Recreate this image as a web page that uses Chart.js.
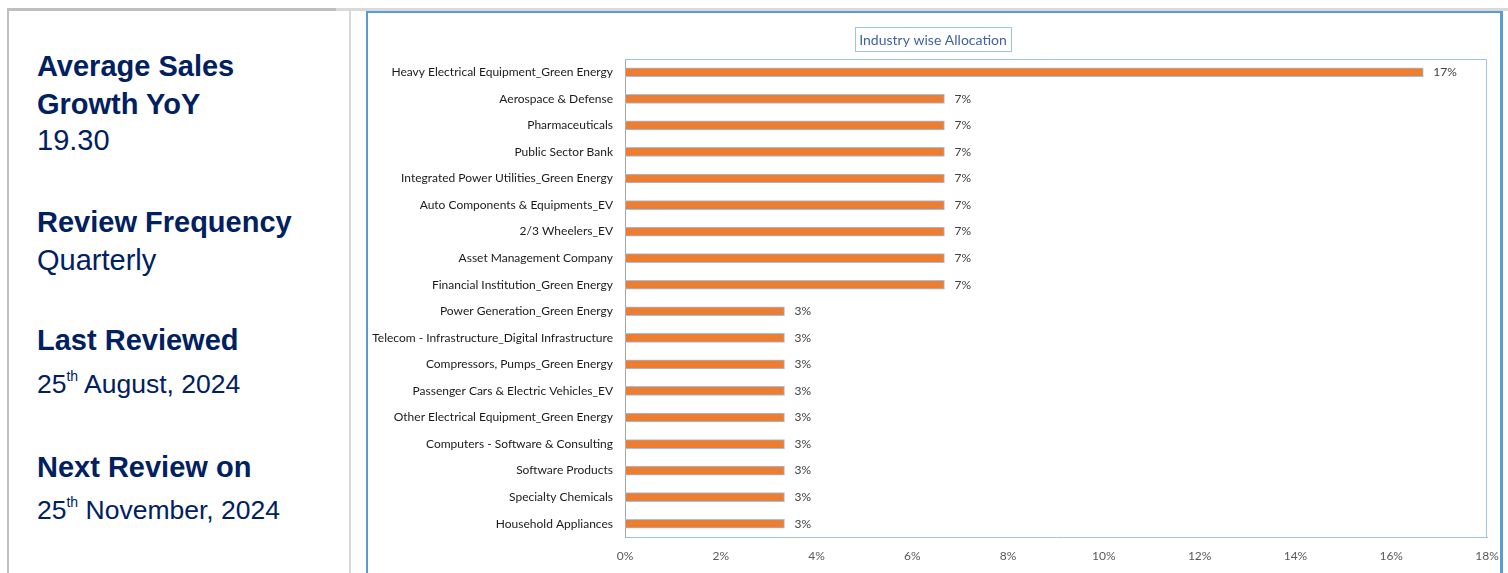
<!DOCTYPE html>
<html>
<head>
<meta charset="utf-8">
<script src="https://cdn.jsdelivr.net/npm/chart.js@4.4.1/dist/chart.umd.min.js"></script>
<style>
  html, body { margin: 0; padding: 0; background: #fff; }
  body { width: 1508px; height: 573px; position: relative; overflow: hidden; font-family: "Liberation Sans", Arial, sans-serif; }
  .line { position: absolute; }
  .txt { position: absolute; left: 37px; color: #002060; line-height: 38px; white-space: nowrap; }
  .head { font-weight: bold; font-size: 29px; }
  .val { font-size: 29px; }
  .date { font-size: 26.5px; }
  .date sup { font-size: 14px; vertical-align: 12px; line-height: 0; }
  #chartBox { position: absolute; left: 366px; top: 11px; width: 1132px; height: 580px; border: 2px solid #5b9bd5; border-right-width: 3px; }
  #chartWrap { position: absolute; left: 368px; top: 13px; width: 1132px; height: 560px; }
</style>
</head>
<body>
<div class="line" style="left:7px; top:8px; width:329px; height:3px; background:#bfbfbf;"></div>
<div class="line" style="left:336px; top:8px; width:1172px; height:3px; background:#d9d9d9;"></div>
<div class="line" style="left:7px; top:8px; width:2px; height:565px; background:#bfbfbf;"></div>
<div class="line" style="left:349px; top:10px; width:2px; height:563px; background:#d9d9d9;"></div>

<div class="txt head" style="top:47px;">Average Sales</div>
<div class="txt head" style="top:85px;">Growth YoY</div>
<div class="txt val" style="top:121px;">19.30</div>
<div class="txt head" style="top:203px;">Review Frequency</div>
<div class="txt val" style="top:241px;">Quarterly</div>
<div class="txt head" style="top:321px;">Last Reviewed</div>
<div class="txt date" style="top:365px;">25<sup>th</sup> August, 2024</div>
<div class="txt head" style="top:448px;">Next Review on</div>
<div class="txt date" style="top:491px;">25<sup>th</sup> November, 2024</div>

<div id="chartBox"></div>
<div id="chartWrap"><canvas id="barChart"></canvas></div>

<script>
const industries = [
    'Heavy Electrical Equipment_Green Energy',
    'Aerospace & Defense',
    'Pharmaceuticals',
    'Public Sector Bank',
    'Integrated Power Utilities_Green Energy',
    'Auto Components & Equipments_EV',
    '2/3 Wheelers_EV',
    'Asset Management Company',
    'Financial Institution_Green Energy',
    'Power Generation_Green Energy',
    'Telecom - Infrastructure_Digital Infrastructure',
    'Compressors, Pumps_Green Energy',
    'Passenger Cars & Electric Vehicles_EV',
    'Other Electrical Equipment_Green Energy',
    'Computers - Software & Consulting',
    'Software Products',
    'Specialty Chemicals',
    'Household Appliances'
];
const allocation = [16.67, 6.67, 6.67, 6.67, 6.67, 6.67, 6.67, 6.67, 6.67,
                    3.33, 3.33, 3.33, 3.33, 3.33, 3.33, 3.33, 3.33, 3.33];
const xTicks = [0, 2, 4, 6, 8, 10, 12, 14, 16, 18];
const chartTitle = 'Industry wise Allocation';

const labelFont = 'Lato, "DejaVu Sans Condensed", sans-serif';

// plot area border (top & right), the axes draw the rest
const plotFrame = {
    id: 'plotFrame',
    beforeDatasetsDraw(chart) {
        const { ctx, chartArea: a } = chart;
        ctx.save();
        ctx.strokeStyle = '#9dc3e6';
        ctx.lineWidth = 1;
        ctx.beginPath();
        ctx.moveTo(a.left, a.top + 0.5);
        ctx.lineTo(a.right - 0.5, a.top + 0.5);
        ctx.lineTo(a.right - 0.5, a.bottom);
        ctx.stroke();
        ctx.restore();
    }
};

const boxTitle = {
    id: 'boxTitle',
    afterDraw(chart) {
        const ctx = chart.ctx;
        ctx.save();
        ctx.font = `14px ${labelFont}`;
        const w = ctx.measureText(chartTitle).width;
        const cx = 933 - 368, cy = 40 - 13;
        ctx.strokeStyle = '#9dc3e6';
        ctx.lineWidth = 1;
        ctx.strokeRect(Math.round(cx - w / 2 - 4) + 0.5, cy - 12.5, Math.round(w + 8), 24);
        ctx.fillStyle = '#3f62a0';
        ctx.textAlign = 'center';
        ctx.textBaseline = 'middle';
        ctx.fillText(chartTitle, cx, cy);
        ctx.restore();
    }
};

const valueLabels = {
    id: 'valueLabels',
    afterDatasetsDraw(chart) {
        const ctx = chart.ctx;
        const meta = chart.getDatasetMeta(0);
        ctx.save();
        ctx.font = `12px ${labelFont}`;
        ctx.fillStyle = '#404040';
        ctx.textAlign = 'left';
        ctx.textBaseline = 'middle';
        meta.data.forEach((bar, i) => {
            ctx.fillText(Math.round(allocation[i]) + '%', bar.x + 10, bar.y);
        });
        ctx.restore();
    }
};

new Chart(document.getElementById('barChart'), {
    type: 'bar',
    data: {
        labels: industries,
        datasets: [{
            data: allocation,
            backgroundColor: '#ed7d31',
            borderColor: '#9dc3e6',
            borderWidth: 1,
            borderSkipped: false,
            barThickness: 9
        }]
    },
    options: {
        indexAxis: 'y',
        responsive: true,
        maintainAspectRatio: false,
        animation: false,
        layout: { padding: { top: 46, right: 13, left: 0, bottom: 0 } },
        plugins: {
            legend: { display: false },
            tooltip: { enabled: false },
            title: { display: false }
        },
        scales: {
            x: {
                min: 0,
                max: 18,
                afterBuildTicks: (scale) => { scale.ticks = xTicks.map(v => ({ value: v })); },
                afterFit: (scale) => {
                    scale.height = 36;
                    scale.paddingRight = 0;
                    scale.paddingLeft = 0;
                },
                grid: { display: false, drawTicks: false },
                border: { display: true, color: '#9dc3e6', width: 1 },
                ticks: {
                    padding: 12,
                    color: '#595959',
                    font: { family: labelFont, size: 12 },
                    callback: (v) => v + '%'
                }
            },
            y: {
                afterFit: (scale) => { scale.width = 257; },
                grid: { display: false, drawTicks: false },
                border: { display: true, color: '#a6a6a6', width: 1, dash: [3, 2] },
                ticks: {
                    padding: 12,
                    color: '#1a1a1a',
                    autoSkip: false,
                    font: { family: labelFont, size: 12 }
                }
            }
        }
    },
    plugins: [plotFrame, boxTitle, valueLabels]
});
</script>
</body>
</html>
